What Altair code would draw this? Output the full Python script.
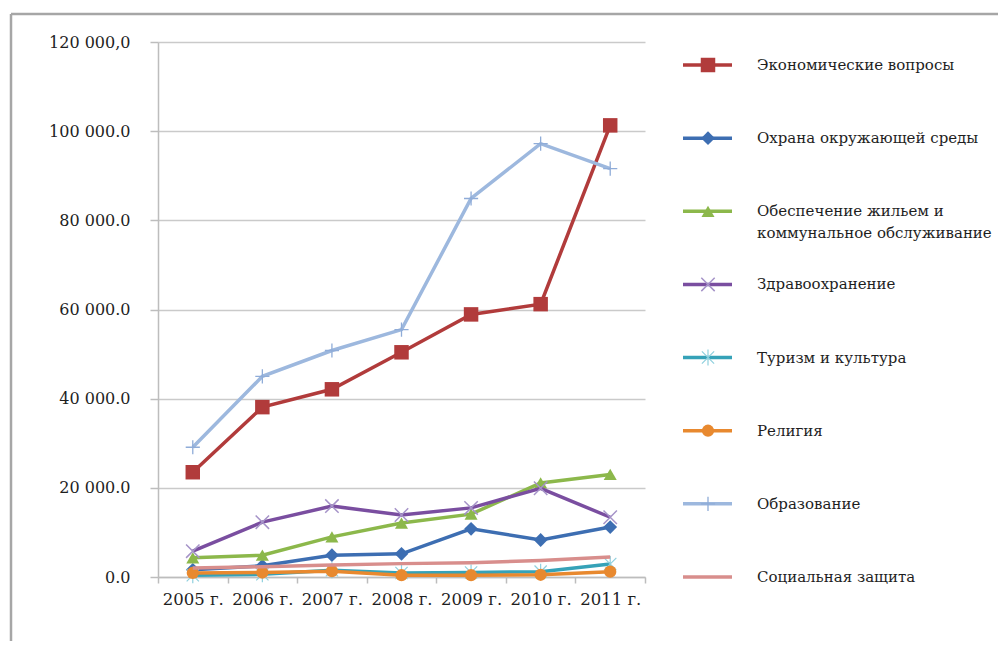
import altair as alt
import pandas as pd

years = ["2005 г.", "2006 г.", "2007 г.", "2008 г.", "2009 г.", "2010 г.", "2011 г."]

names = [
    "Экономические вопросы",
    "Охрана окружающей среды",
    "Обеспечение жильем и\nкоммунальное обслуживание",
    "Здравоохранение",
    "Туризм и культура",
    "Религия",
    "Образование",
    "Социальная защита",
]

econ = [23500, 38100, 42100, 50400, 58900, 61200, 101300]
env = [1600, 2500, 4900, 5200, 10800, 8300, 11200]
housing = [4300, 4900, 9000, 12100, 14100, 21100, 23000]
health = [5800, 12300, 15900, 13900, 15500, 19900, 13400]
tourism = [400, 600, 1500, 900, 1000, 1200, 2900]
religion = [900, 1000, 1300, 400, 400, 500, 1200]
education = [29100, 45000, 50800, 55500, 84900, 97200, 91600]
social = [2000, 2300, 2700, 3000, 3200, 3700, 4500]

series_values = [econ, env, housing, health, tourism, religion, education, social]

line_colors = ["#B13B3B", "#3D6EB2", "#8CB84B", "#7A4EA0", "#35A2B8", "#E8892F", "#9DB8DE", "#D88E8C"]
marker_colors = ["#B13B3B", "#3D6EB2", "#8CB84B", "#A593C8", "#8FD0DE", "#E8892F", "#8FACD8", "#D88E8C"]
# marker specs: (shape, filled, size, strokeWidth)
markers = [
    ("square", True, 210, 0),
    ("diamond", True, 190, 0),
    ("triangle-up", True, 170, 0),
    ("M-1,-1L1,1M-1,1L1,-1", False, 180, 1.5),
    ("M-1,-1L1,1M-1,1L1,-1M0,-1.3L0,1.3", False, 150, 1.2),
    ("circle", True, 150, 0),
    ("M-1,0L1,0M0,-1L0,1", False, 200, 1.3),
    None,
]

rows = []
for n, vals in zip(names, series_values):
    for y, v in zip(years, vals):
        rows.append({"series": n, "year": y, "value": v})
df = pd.DataFrame(rows)
legend_df = pd.DataFrame({"series": names})

FONT = "DejaVu Serif"
TEXT_COLOR = "#1E1E1E"

x_enc = alt.X(
    "year:O",
    scale=alt.Scale(type="band", domain=years, paddingInner=0, paddingOuter=0),
    bandPosition=0.5,
    axis=alt.Axis(
        title=None, labelAngle=0, tickBand="extent", grid=False,
        tickSize=6, labelPadding=8, domainColor="#BDBDBD", tickColor="#BDBDBD",
        domainWidth=1.5, tickWidth=1.5, labelFontSize=16.5,
    ),
)
y_enc = alt.Y(
    "value:Q",
    scale=alt.Scale(domain=[0, 120000], nice=False),
    axis=alt.Axis(
        title=None, values=[0, 20000, 40000, 60000, 80000, 100000, 120000],
        labelExpr="datum.value == 120000 ? '120 000,0' : replace(format(datum.value, ',.1f'), ',', ' ')",
        tickSize=8, labelPadding=20, grid=True, gridColor="#CACACA", gridWidth=1.5,
        domainColor="#BDBDBD", tickColor="#BDBDBD", domainWidth=1.5, tickWidth=1.5,
        labelFontSize=16,
    ),
)

base = alt.Chart(df)
main_layers = []
for i, n in enumerate(names):
    lay = base.transform_filter(alt.datum.series == n).mark_line(
        color=line_colors[i], strokeWidth=3.5
    ).encode(x=x_enc, y=y_enc)
    main_layers.append(lay)
    m = markers[i]
    if m is not None:
        shape, filled, size, sw = m
        if filled:
            pm = base.transform_filter(alt.datum.series == n).mark_point(
                shape=shape, filled=True, size=size, color=marker_colors[i], opacity=1
            )
        else:
            pm = base.transform_filter(alt.datum.series == n).mark_point(
                shape=shape, filled=False, size=size, color=marker_colors[i],
                strokeWidth=sw, opacity=1
            )
        main_layers.append(pm.encode(x=x_enc, y=y_enc))

main = alt.layer(*main_layers)

ly = alt.Y("series:N", scale=alt.Scale(type="point", domain=names, range=[23, 535], padding=0), axis=None)
lbase = alt.Chart(legend_df)
legend_layers = []
for i, n in enumerate(names):
    lf = lbase.transform_filter(alt.datum.series == n)
    legend_layers.append(
        lf.mark_rule(color=line_colors[i], strokeWidth=3.5).encode(
            x=alt.value(525), x2=alt.value(574), y=ly
        )
    )
    m = markers[i]
    if m is not None:
        shape, filled, size, sw = m
        if filled:
            pm = lf.mark_point(shape=shape, filled=True, size=size, color=marker_colors[i], opacity=1)
        else:
            pm = lf.mark_point(shape=shape, filled=False, size=size, color=marker_colors[i],
                               strokeWidth=sw, opacity=1)
        legend_layers.append(pm.encode(x=alt.value(550), y=ly))
legend_layers.append(
    lbase.mark_text(align="left", baseline="middle", font=FONT, fontSize=15,
                    color=TEXT_COLOR, lineBreak="\n", lineHeight=22).encode(
        x=alt.value(599), y=ly, text="series:N"
    )
)
legend = alt.layer(*legend_layers)

frame_df = pd.DataFrame({"a": [0]})
frame = alt.layer(
    alt.Chart(frame_df).mark_rule(color="#A6A6A6", strokeWidth=2.5).encode(
        x=alt.value(-147), y=alt.value(-28), y2=alt.value(700)
    ),
    alt.Chart(frame_df).mark_rule(color="#A6A6A6", strokeWidth=2.5).encode(
        x=alt.value(-147), x2=alt.value(900), y=alt.value(-28)
    ),
)

chart = alt.layer(main, legend, frame).resolve_scale(
    x="independent", y="independent"
).properties(
    width=487, height=535,
    padding={"left": 150, "top": 34, "right": 353, "bottom": 64},
    autosize=alt.AutoSizeParams(type="none"),
    background="white",
).configure_view(stroke=None).configure_axis(
    labelFont=FONT, labelColor=TEXT_COLOR
)

chart.save("out.html", embed_options={"renderer": "svg", "actions": False})
